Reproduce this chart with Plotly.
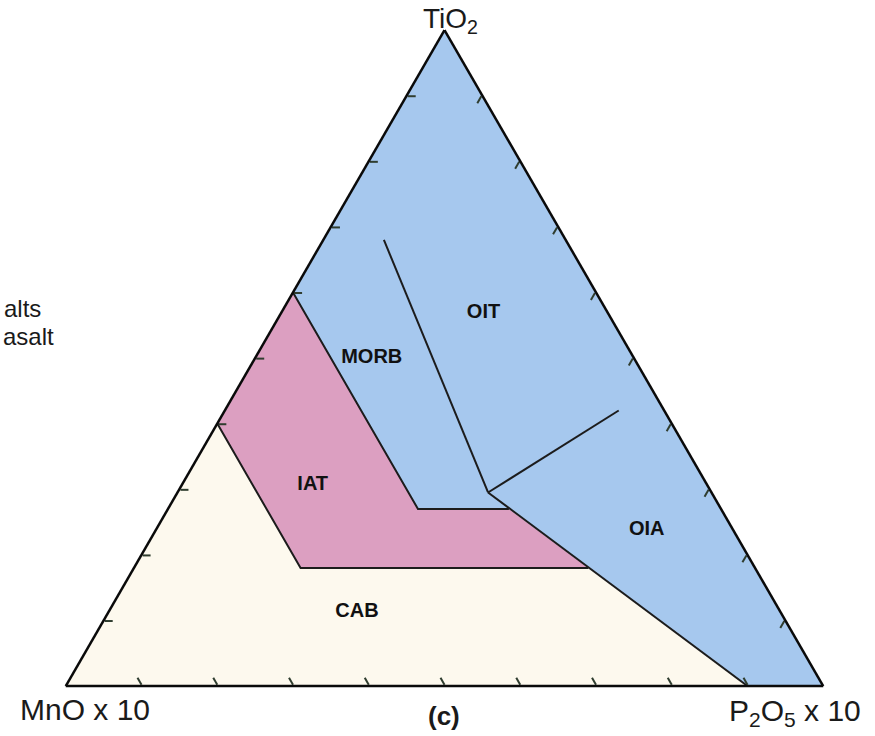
import plotly.graph_objects as go

W, H = 875, 736
ML, MR, MT, MB = 65, 51, 30, 50
PW, PH = W - ML - MR, H - MT - MB

# Discrimination fields, vertices given as fractions of (MnO x 10, TiO2, P2O5 x 10)
ocean_mno = [0.40, 0.00, 0.00, 0.10, 0.22, 0.28, 0.40]
ocean_tio2 = [0.60, 1.00, 0.00, 0.00, 0.18, 0.27, 0.27]
ocean_p2o5 = [0.00, 0.00, 1.00, 0.90, 0.60, 0.45, 0.33]

iat_mno = [0.40, 0.40, 0.28, 0.22, 0.60, 0.60]
iat_tio2 = [0.60, 0.27, 0.27, 0.18, 0.18, 0.40]
iat_p2o5 = [0.00, 0.33, 0.45, 0.60, 0.22, 0.00]

cab_mno = [1.00, 0.60, 0.60, 0.22, 0.10]
cab_tio2 = [0.00, 0.40, 0.18, 0.18, 0.00]
cab_p2o5 = [0.00, 0.00, 0.22, 0.60, 0.90]

# Field boundaries
boundaries = {
    "morb_oit": ([0.24, 0.295], [0.68, 0.295], [0.08, 0.41]),
    "oit_oia": ([0.295, 0.06], [0.295, 0.42], [0.41, 0.52]),
    "oia_lower": ([0.295, 0.10], [0.295, 0.00], [0.41, 0.90]),
    "iat_upper": ([0.40, 0.40, 0.28], [0.60, 0.27, 0.27], [0.00, 0.33, 0.45]),
    "iat_lower": ([0.60, 0.60, 0.22], [0.40, 0.18, 0.18], [0.00, 0.22, 0.60]),
}

# Field names and where they are written
field_names = ["OIT", "MORB", "IAT", "OIA", "CAB"]
name_mno = [0.164, 0.346, 0.521, 0.114, 0.559]
name_tio2 = [0.569, 0.500, 0.306, 0.238, 0.113]
name_p2o5 = [0.267, 0.154, 0.173, 0.648, 0.328]

BLUE = "#a6c8ee"
PINK = "#dc9fc1"
CREAM = "#fdf9ee"
INK = "#1c1c1c"

fig = go.Figure()


def field(mno, tio2, p2o5, color):
    fig.add_trace(go.Scatterternary(
        a=tio2, b=mno, c=p2o5, mode="lines", fill="toself",
        fillcolor=color, line=dict(width=0, color=color),
        hoverinfo="skip", showlegend=False))


field(ocean_mno, ocean_tio2, ocean_p2o5, BLUE)
field(iat_mno, iat_tio2, iat_p2o5, PINK)
field(cab_mno, cab_tio2, cab_p2o5, CREAM)

for mno, tio2, p2o5 in boundaries.values():
    fig.add_trace(go.Scatterternary(
        a=tio2, b=mno, c=p2o5, mode="lines",
        line=dict(width=2, color=INK),
        hoverinfo="skip", showlegend=False))

fig.add_trace(go.Scatterternary(
    a=name_tio2, b=name_mno, c=name_p2o5, mode="text",
    text=[f"<b>{n}</b>" for n in field_names],
    textfont=dict(family="Liberation Sans, Arial, sans-serif", size=20, color="#111"),
    hoverinfo="skip", showlegend=False))

axis_style = dict(
    showgrid=False, showticklabels=False, ticks="inside", ticklen=8,
    tickwidth=1.5, tickcolor="#2f3d2f", dtick=0.1, tick0=0,
    showline=True, linecolor="#0a0a0a", linewidth=2.5, title=dict(text=""),
)


def px(x):
    return (x - ML) / PW


def py(y):
    return 1 - (y - MT) / PH


font = "Liberation Sans, Arial, sans-serif"
annotations = [
    dict(text="TiO<sub>2</sub>", x=px(450), y=py(20), size=28),
    dict(text="MnO x 10", x=px(85), y=py(709), size=30),
    dict(text="P<sub>2</sub>O<sub>5</sub> x 10", x=px(795), y=py(712), size=30),
    dict(text="<b>(c)</b>", x=px(444), y=py(716), size=26),
    dict(text="alts", x=px(43), y=py(308), size=24, xanchor="right"),
    dict(text="asalt", x=px(56), y=py(336), size=24, xanchor="right"),
]

fig.update_layout(
    width=W, height=H,
    margin=dict(l=ML, r=MR, t=MT, b=MB),
    paper_bgcolor="white",
    ternary=dict(
        sum=1,
        bgcolor="rgba(0,0,0,0)",
        domain=dict(x=[0, 1], y=[0, 1]),
        aaxis=axis_style, baxis=axis_style, caxis=axis_style,
    ),
    annotations=[
        dict(text=a["text"], x=a["x"], y=a["y"], xref="paper", yref="paper",
             xanchor=a.get("xanchor", "center"), yanchor="middle",
             showarrow=False, font=dict(family=font, size=a["size"], color="#1a1a1a"))
        for a in annotations
    ],
)

fig.write_html("out.html")
